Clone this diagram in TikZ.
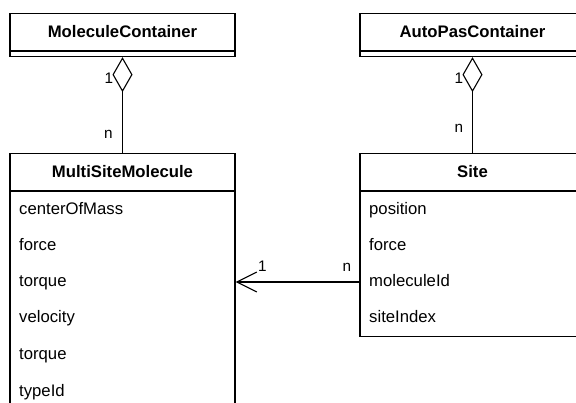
\documentclass[tikz,border=0pt]{standalone}
\usepackage{fontspec}
\setmainfont{Liberation Sans}
\usetikzlibrary{arrows.meta,positioning}

\begin{document}
\begin{tikzpicture}[x=1pt, y=-1pt,
  classhead/.style={rectangle, draw, line width=1.1pt, minimum width=225pt,
                    minimum height=37pt, inner sep=0pt,
                    font=\fontsize{16.7}{20}\selectfont\bfseries},
  classbody/.style={rectangle, draw, line width=1.1pt, minimum width=225pt,
                    inner sep=0pt},
  attr/.style={anchor=base west, inner sep=0pt, font=\fontsize{16.7}{20}\selectfont},
  mult/.style={inner sep=0pt, font=\fontsize{15.3}{18}\selectfont},
  aggr/.style={{Diamond[open, length=35pt, width=20pt]}-, line width=1.1pt},
  assoc/.style={-{Straight Barb[length=20pt, width=20pt]}, line width=1.1pt},
]
\clip (0,0) rectangle (576,403);

% containers
\node[classhead] (mc)  at (122.5,32) {MoleculeContainer};
\node[classbody, minimum height=5pt, below=0pt of mc] (mcbody) {};
\node[classhead] (apc) at (472.5,32) {AutoPasContainer};
\node[classbody, minimum height=5pt, below=0pt of apc] (apcbody) {};

% molecule and site classes
\node[classhead] (msm)  at (122.5,172) {MultiSiteMolecule};
\node[classbody, minimum height=230pt, below=0pt of msm] (msmbody) {};
\node[classhead] (site) at (472.5,172) {Site};
\node[classbody, minimum height=144.5pt, below=0pt of site] (sitebody) {};

\node[attr] (m1) at (19,215) {centerOfMass};
\node[attr] (m2) at (19,251) {force};
\node[attr] (m3) at (19,287) {torque};
\node[attr] (m4) at (19,323) {velocity};
\node[attr] (m5) at (19,360) {torque};
\node[attr] (m6) at (19,396) {typeId};

\node[attr] (s1) at (369,215) {position};
\node[attr] (s2) at (369,251) {force};
\node[attr] (s3) at (369,287) {moleculeId};
\node[attr] (s4) at (369,323) {siteIndex};

% relations
\draw[aggr] (mcbody.south) -- (msm.north);
\draw[aggr] (apcbody.south) -- (site.north);
\draw[assoc] (sitebody.west |- 0,282) -- (msmbody.east |- 0,282);

\node[mult] (mc1)   at (109,78.5)  {1};
\node[mult] (mcn)   at (108.5,134) {n};
\node[mult] (apc1)  at (459,78.5)  {1};
\node[mult] (apcn)  at (459,128)   {n};
\node[mult] (as1)   at (262.5,266.5) {1};
\node[mult] (asn)   at (347,267.5) {n};
\end{tikzpicture}
\end{document}
